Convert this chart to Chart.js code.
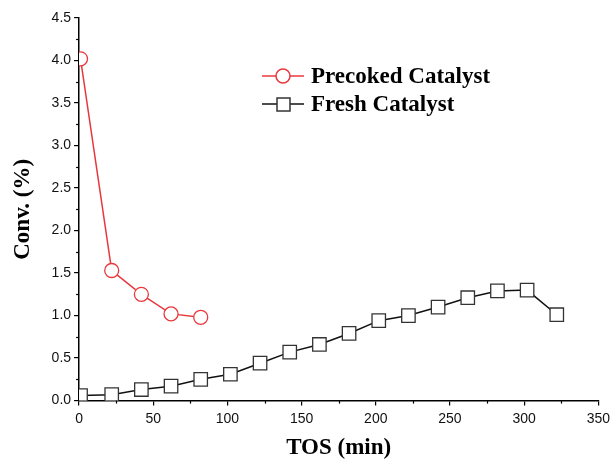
<!DOCTYPE html>
<html><head><meta charset="utf-8">
<script src="https://cdn.jsdelivr.net/npm/chart.js@4/dist/chart.umd.min.js"></script>
<style>html,body{margin:0;padding:0;background:#fff}#wrap{width:615px;height:462px}</style>
</head><body><div id="wrap"><canvas id="c" width="615" height="462"></canvas></div>
<script>
const precokedTOS = [1, 22, 42, 62, 82];
const precokedConv = [4.02, 1.53, 1.25, 1.02, 0.98];
const freshTOS = [1, 22, 42, 62, 82, 102, 122, 142, 162, 182, 202, 222, 242, 262, 282, 302, 322];
const freshConv = [0.06, 0.07, 0.13, 0.17, 0.25, 0.31, 0.44, 0.57, 0.66, 0.79, 0.94, 1.00, 1.10, 1.21, 1.29, 1.30, 1.01];
const seriesNames = ["Precoked Catalyst", "Fresh Catalyst"];

const minorTicks = {
  id: 'minorTicks',
  afterDraw(chart) {
    const ctx = chart.ctx;
    const x = chart.scales.x, y = chart.scales.y;
    ctx.save();
    ctx.strokeStyle = '#000';
    ctx.lineWidth = 1.2;
    for (let v = 25; v < 350; v += 50) {
      const px = Math.round(x.getPixelForValue(v)) + 0.5;
      ctx.beginPath(); ctx.moveTo(px, y.bottom); ctx.lineTo(px, y.bottom + 3); ctx.stroke();
    }
    for (let v = 0.25; v < 4.5; v += 0.5) {
      const py = Math.round(y.getPixelForValue(v)) + 0.5;
      ctx.beginPath(); ctx.moveTo(x.left, py); ctx.lineTo(x.left - 3, py); ctx.stroke();
    }
    // legend
    const ds = chart.data.datasets;
    const lx = 262, ly0 = 76, gap = 28;
    ds.forEach((d, i) => {
      const yy = ly0 + i * gap;
      ctx.strokeStyle = d.borderColor; ctx.lineWidth = 1.5;
      ctx.beginPath(); ctx.moveTo(lx, yy); ctx.lineTo(lx + 42, yy); ctx.stroke();
      ctx.fillStyle = '#fff';
      ctx.strokeStyle = d.pointBorderColor;
      if (d.pointStyle === 'circle') {
        ctx.beginPath(); ctx.arc(lx + 21, yy, 7, 0, Math.PI * 2); ctx.fill(); ctx.stroke();
      } else {
        ctx.fillRect(lx + 15, yy - 6, 13, 13); ctx.strokeRect(lx + 15, yy - 6, 13, 13);
      }
      ctx.fillStyle = '#000';
      ctx.font = 'bold 23px "Liberation Serif", "Times New Roman", serif';
      ctx.textBaseline = 'middle';
      ctx.fillText(d.label, lx + 49, yy + 1);
    });
    ctx.restore();
  }
};

new Chart(document.getElementById('c'), {
  type: 'scatter',
  data: {
    datasets: [
      {
        label: seriesNames[0],
        data: precokedTOS.map((t, i) => ({x: t, y: precokedConv[i]})),
        showLine: true,
        borderColor: '#e8383d',
        pointBorderColor: '#e8383d',
        pointBackgroundColor: '#fff',
        pointStyle: 'circle',
        pointRadius: 7,
        pointBorderWidth: 1.3,
        borderWidth: 1.5
      },
      {
        label: seriesNames[1],
        data: freshTOS.map((t, i) => ({x: t, y: freshConv[i]})),
        showLine: true,
        borderColor: '#111',
        pointBorderColor: '#333',
        pointBackgroundColor: '#fff',
        pointStyle: 'rect',
        pointRadius: 9.5,
        pointBorderWidth: 1.3,
        borderWidth: 1.5
      }
    ]
  },
  options: {
    responsive: false,
    animation: false,
    layout: {padding: {top: 18, right: 5, left: 5, bottom: 0}},
    plugins: {legend: {display: false}, tooltip: {enabled: false}},
    scales: {
      x: {
        type: 'linear', min: 0, max: 350,
        grid: {display: true, drawOnChartArea: false, drawTicks: true, tickLength: 5, color: '#000', lineWidth: 1.2},
        border: {display: true, color: '#000', width: 1.5},
        ticks: {stepSize: 50, color: '#111', font: {family: '"Liberation Sans", Arial, sans-serif', size: 14}, padding: 5},
        title: {display: true, text: 'TOS (min)', color: '#000', font: {family: '"Liberation Serif", "Times New Roman", serif', size: 23, weight: 'bold'}, padding: {top: 2, bottom: 0}}
      },
      y: {
        type: 'linear', min: 0, max: 4.5,
        grid: {display: true, drawOnChartArea: false, drawTicks: true, tickLength: 5, color: '#000', lineWidth: 1.2},
        border: {display: true, color: '#000', width: 1.5},
        ticks: {stepSize: 0.5, color: '#111', font: {family: '"Liberation Sans", Arial, sans-serif', size: 14}, padding: 3, callback: v => v.toFixed(1)},
        title: {display: true, text: 'Conv. (%)', color: '#000', font: {family: '"Liberation Serif", "Times New Roman", serif', size: 23, weight: 'bold'}, padding: {top: 4, bottom: 12}}
      }
    }
  },
  plugins: [minorTicks]
});
</script></body></html>
